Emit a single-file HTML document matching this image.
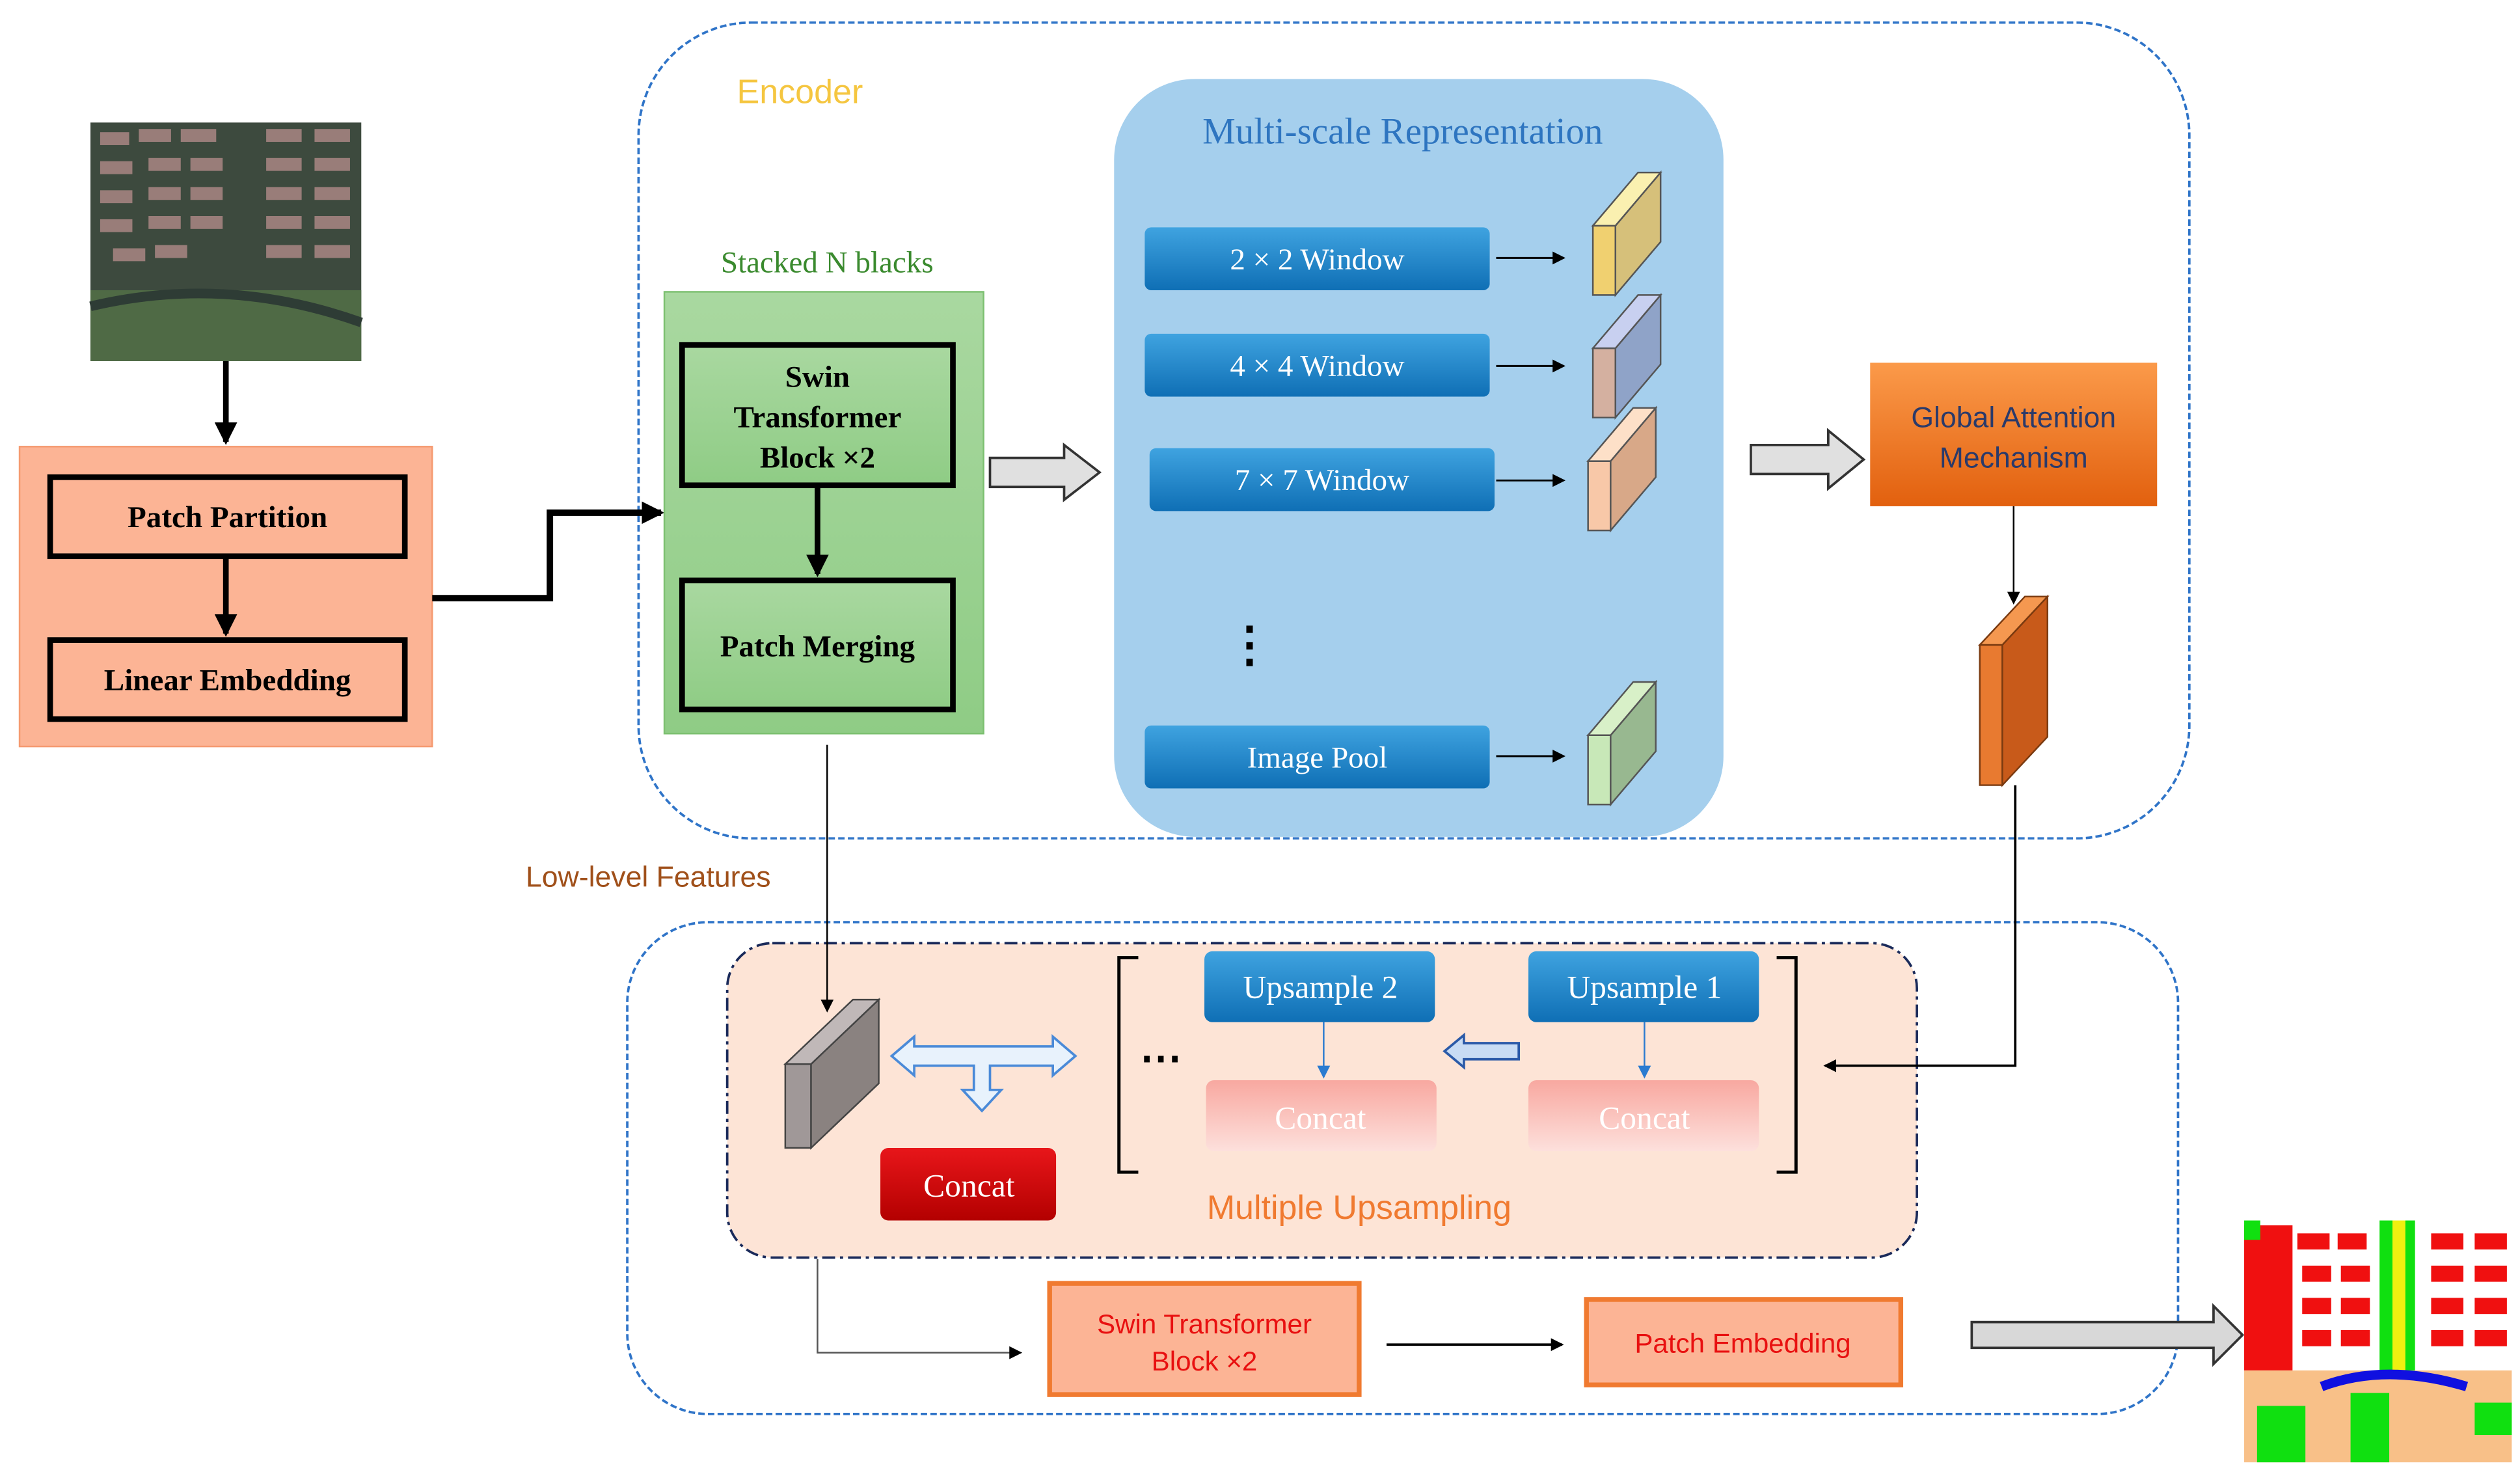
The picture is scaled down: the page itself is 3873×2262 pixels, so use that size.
<!DOCTYPE html>
<html><head><meta charset="utf-8"><style>
html,body{margin:0;padding:0;background:#fff;}
svg{display:block;}
.s{font-family:"Liberation Serif",serif;}
.a{font-family:"Liberation Sans",sans-serif;}
</style></head><body>
<svg width="3873" height="2262" viewBox="0 0 1563 913" xmlns="http://www.w3.org/2000/svg">
<defs>
<linearGradient id="bl" x1="0" y1="0" x2="0" y2="1"><stop offset="0" stop-color="#3fa3e0"/><stop offset="1" stop-color="#0f6fb5"/></linearGradient>
<linearGradient id="or" x1="0" y1="0" x2="0" y2="1"><stop offset="0" stop-color="#fb9a4a"/><stop offset="1" stop-color="#e2600e"/></linearGradient>
<linearGradient id="pk" x1="0" y1="0" x2="0" y2="1"><stop offset="0" stop-color="#f8a8a0"/><stop offset="1" stop-color="#fde0dc"/></linearGradient>
<linearGradient id="gr" x1="0" y1="0" x2="0" y2="1"><stop offset="0" stop-color="#a9d8a0"/><stop offset="1" stop-color="#8fcc85"/></linearGradient>
<linearGradient id="rd" x1="0" y1="0" x2="0" y2="1"><stop offset="0" stop-color="#e8161a"/><stop offset="1" stop-color="#b30000"/></linearGradient>
<marker id="ah" markerWidth="8" markerHeight="8" refX="7" refY="4" orient="auto" markerUnits="userSpaceOnUse"><path d="M0,0 L8,4 L0,8 z" fill="#000"/></marker>
<marker id="ab" markerWidth="8" markerHeight="8" refX="7" refY="4" orient="auto" markerUnits="userSpaceOnUse"><path d="M0,0 L8,4 L0,8 z" fill="#2b7bd0"/></marker>
<marker id="ak" markerWidth="14" markerHeight="14" refX="12" refY="7" orient="auto" markerUnits="userSpaceOnUse"><path d="M0,0 L14,7 L0,14 z" fill="#000"/></marker>
</defs>

<rect x="396" y="14" width="962" height="506" rx="70" fill="none" stroke="#2f74c8" stroke-width="1.5" stroke-dasharray="4,2"/>
<text x="457" y="64" class="a" font-size="21" fill="#f5c640">Encoder</text>
<rect x="389" y="572" width="962" height="305" rx="50" fill="none" stroke="#2f74c8" stroke-width="1.5" stroke-dasharray="4,2"/>

<rect x="56" y="76" width="168" height="148" fill="#3d4a3e"/>
<g fill="#b08a88" opacity="0.8">
<rect x="62" y="82" width="18" height="8"/><rect x="86" y="80" width="20" height="8"/><rect x="112" y="80" width="22" height="8"/><rect x="165" y="80" width="22" height="8"/><rect x="195" y="80" width="22" height="8"/>
<rect x="62" y="100" width="20" height="8"/><rect x="92" y="98" width="20" height="8"/><rect x="118" y="98" width="20" height="8"/><rect x="165" y="98" width="22" height="8"/><rect x="195" y="98" width="22" height="8"/>
<rect x="62" y="118" width="20" height="8"/><rect x="92" y="116" width="20" height="8"/><rect x="118" y="116" width="20" height="8"/><rect x="165" y="116" width="22" height="8"/><rect x="195" y="116" width="22" height="8"/>
<rect x="62" y="136" width="20" height="8"/><rect x="92" y="134" width="20" height="8"/><rect x="118" y="134" width="20" height="8"/><rect x="165" y="134" width="22" height="8"/><rect x="195" y="134" width="22" height="8"/>
<rect x="70" y="154" width="20" height="8"/><rect x="96" y="152" width="20" height="8"/><rect x="165" y="152" width="22" height="8"/><rect x="195" y="152" width="22" height="8"/>
</g>
<rect x="56" y="180" width="168" height="44" fill="#4f6a45"/>
<path d="M56,190 Q140,170 224,200" stroke="#2e3c35" stroke-width="6" fill="none"/>
<line x1="140" y1="224" x2="140" y2="274" stroke="#000" stroke-width="3.5" marker-end="url(#ak)"/>

<rect x="12" y="277" width="256" height="186" fill="#fcb495" stroke="#f59a70" stroke-width="1"/>
<rect x="31" y="296" width="220" height="49" fill="#fcb495" stroke="#000" stroke-width="3.5"/>
<text x="141" y="327" class="s" font-size="19" font-weight="bold" text-anchor="middle">Patch Partition</text>
<line x1="140" y1="345" x2="140" y2="393" stroke="#000" stroke-width="3.5" marker-end="url(#ak)"/>
<rect x="31" y="397" width="220" height="49" fill="#fcb495" stroke="#000" stroke-width="3.5"/>
<text x="141" y="428" class="s" font-size="19" font-weight="bold" text-anchor="middle">Linear Embedding</text>
<polyline points="268,371 341,371 341,318 410,318" fill="none" stroke="#000" stroke-width="4" marker-end="url(#ak)"/>

<text x="513" y="169" class="s" font-size="19" fill="#3a8a2e" text-anchor="middle">Stacked N blacks</text>
<rect x="412" y="181" width="198" height="274" fill="url(#gr)" stroke="#7cc070"/>
<rect x="423" y="214" width="168" height="87" fill="url(#gr)" stroke="#000" stroke-width="3.5"/>
<text x="507" y="240" class="s" font-size="19" font-weight="bold" text-anchor="middle">Swin</text>
<text x="507" y="265" class="s" font-size="19" font-weight="bold" text-anchor="middle">Transformer</text>
<text x="507" y="290" class="s" font-size="19" font-weight="bold" text-anchor="middle">Block ×2</text>
<line x1="507" y1="301" x2="507" y2="356" stroke="#000" stroke-width="3.5" marker-end="url(#ak)"/>
<rect x="423" y="360" width="168" height="80" fill="url(#gr)" stroke="#000" stroke-width="3.5"/>
<text x="507" y="407" class="s" font-size="19" font-weight="bold" text-anchor="middle">Patch Merging</text>

<polygon points="614,284 660,284 660,276 682,293 660,310 660,302 614,302" fill="#e0e0e0" stroke="#333" stroke-width="1.5"/>

<rect x="691" y="49" width="378" height="470" rx="50" fill="#a5cfed"/>
<text x="870" y="89" class="s" font-size="23" fill="#2e75c0" text-anchor="middle">Multi-scale Representation</text>
<g class="s" font-size="19" fill="#fff" text-anchor="middle">
<rect x="710" y="141" width="214" height="39" rx="4" fill="url(#bl)"/><text x="817" y="167">2 × 2 Window</text>
<rect x="710" y="207" width="214" height="39" rx="4" fill="url(#bl)"/><text x="817" y="233">4 × 4 Window</text>
<rect x="713" y="278" width="214" height="39" rx="4" fill="url(#bl)"/><text x="820" y="304">7 × 7 Window</text>
<rect x="710" y="450" width="214" height="39" rx="4" fill="url(#bl)"/><text x="817" y="476">Image Pool</text>
</g>
<g stroke="#000" stroke-width="1.2" marker-end="url(#ah)">
<line x1="928" y1="160" x2="970" y2="160"/><line x1="928" y1="227" x2="970" y2="227"/><line x1="928" y1="298" x2="970" y2="298"/><line x1="928" y1="469" x2="970" y2="469"/>
</g>
<text x="775" y="410" font-size="30" font-weight="bold" text-anchor="middle" class="a">⋮</text>
<g stroke="#555" stroke-width="1">
<polygon points="988,140 1002,140 1002,183 988,183" fill="#f0d070"/><polygon points="1002,140 1030,107 1030,150 1002,183" fill="#d6c07a"/><polygon points="988,140 1016,107 1030,107 1002,140" fill="#faf0b0"/>
<polygon points="988,216 1002,216 1002,259 988,259" fill="#d4b0a0"/><polygon points="1002,216 1030,183 1030,226 1002,259" fill="#8fa3c8"/><polygon points="988,216 1016,183 1030,183 1002,216" fill="#c8d0f0"/>
<polygon points="985,286 999,286 999,329 985,329" fill="#f8c8a8"/><polygon points="999,286 1027,253 1027,296 999,329" fill="#d8a888"/><polygon points="985,286 1013,253 1027,253 999,286" fill="#fde0c8"/>
<polygon points="985,456 999,456 999,499 985,499" fill="#c8e8b8"/><polygon points="999,456 1027,423 1027,466 999,499" fill="#98b890"/><polygon points="985,456 1013,423 1027,423 999,456" fill="#d8f0c8"/>
</g>

<polygon points="1086,276 1134,276 1134,267 1156,285 1134,303 1134,294 1086,294" fill="#e0e0e0" stroke="#333" stroke-width="1.5"/>
<rect x="1160" y="225" width="178" height="89" fill="url(#or)"/>
<text x="1249" y="265" class="a" font-size="18" fill="#2a3a6a" text-anchor="middle">Global Attention</text>
<text x="1249" y="290" class="a" font-size="18" fill="#2a3a6a" text-anchor="middle">Mechanism</text>
<line x1="1249" y1="314" x2="1249" y2="374" stroke="#000" stroke-width="1" marker-end="url(#ah)"/>
<g stroke="#7a3a10" stroke-width="1">
<polygon points="1228,400 1242,400 1242,487 1228,487" fill="#e87a30"/><polygon points="1242,400 1270,370 1270,457 1242,487" fill="#c85a1a"/><polygon points="1228,400 1256,370 1270,370 1242,400" fill="#f59850"/>
</g>

<text x="326" y="550" class="a" font-size="18" fill="#a0501a">Low-level Features</text>

<rect x="451" y="585" width="738" height="195" rx="28" fill="#fde4d6" stroke="#1a2a5a" stroke-width="1.5" stroke-dasharray="8,3,2,3"/>
<line x1="513" y1="462" x2="513" y2="627" stroke="#000" stroke-width="1" marker-end="url(#ah)"/>
<polyline points="1250,487 1250,661 1132,661" fill="none" stroke="#000" stroke-width="1.5" marker-end="url(#ah)"/>
<g stroke="#444" stroke-width="1">
<polygon points="487,660 503,660 503,712 487,712" fill="#a09898"/><polygon points="503,660 545,620 545,672 503,712" fill="#8a8280"/><polygon points="487,660 529,620 545,620 503,660" fill="#c0b8b8"/>
</g>
<path d="M553,655 L567,643 L567,649 L653,649 L653,643 L667,655 L653,667 L653,661 L614,661 L614,676 L621,676 L609,689 L597,676 L604,676 L604,661 L567,661 L567,667 Z" fill="#e8f2fc" stroke="#4a8ad8" stroke-width="1.5"/>
<rect x="546" y="712" width="109" height="45" rx="5" fill="url(#rd)"/>
<text x="601" y="742" class="s" font-size="20" fill="#fff" text-anchor="middle">Concat</text>
<path d="M706,594 L694,594 L694,727 L706,727" fill="none" stroke="#000" stroke-width="2"/>
<path d="M1102,594 L1114,594 L1114,727 L1102,727" fill="none" stroke="#000" stroke-width="2"/>
<text x="720" y="665" font-size="26" font-weight="bold" text-anchor="middle" class="a">⋯</text>
<rect x="747" y="590" width="143" height="44" rx="5" fill="url(#bl)"/>
<text x="819" y="619" class="s" font-size="20" fill="#fff" text-anchor="middle">Upsample 2</text>
<rect x="948" y="590" width="143" height="44" rx="5" fill="url(#bl)"/>
<text x="1020" y="619" class="s" font-size="20" fill="#fff" text-anchor="middle">Upsample 1</text>
<line x1="821" y1="634" x2="821" y2="668" stroke="#2b7bd0" stroke-width="1" marker-end="url(#ab)"/>
<line x1="1020" y1="634" x2="1020" y2="668" stroke="#2b7bd0" stroke-width="1" marker-end="url(#ab)"/>
<rect x="748" y="670" width="143" height="44" rx="5" fill="url(#pk)"/>
<text x="819" y="700" class="s" font-size="20" fill="#fff" text-anchor="middle">Concat</text>
<rect x="948" y="670" width="143" height="44" rx="5" fill="url(#pk)"/>
<text x="1020" y="700" class="s" font-size="20" fill="#fff" text-anchor="middle">Concat</text>
<path d="M896,652 L908,642 L908,647 L942,647 L942,657 L908,657 L908,662 Z" fill="#c8dcf4" stroke="#2b5aa8" stroke-width="1.5"/>
<text x="843" y="756" class="a" font-size="21" fill="#f07a30" text-anchor="middle">Multiple Upsampling</text>

<polyline points="507,781 507,839 633,839" fill="none" stroke="#555" stroke-width="1" marker-end="url(#ah)"/>
<rect x="651" y="796" width="192" height="69" fill="#fcb495" stroke="#f07a30" stroke-width="3"/>
<text x="747" y="827" class="a" font-size="17" fill="#e81010" text-anchor="middle">Swin Transformer</text>
<text x="747" y="850" class="a" font-size="17" fill="#e81010" text-anchor="middle">Block ×2</text>
<line x1="860" y1="834" x2="969" y2="834" stroke="#000" stroke-width="1.5" marker-end="url(#ah)"/>
<rect x="984" y="806" width="195" height="53" fill="#fcb495" stroke="#f07a30" stroke-width="3"/>
<text x="1081" y="839" class="a" font-size="17" fill="#e81010" text-anchor="middle">Patch Embedding</text>
<polygon points="1223,820 1373,820 1373,810 1391,828 1373,846 1373,836 1223,836" fill="#d8d8d8" stroke="#333" stroke-width="1.5"/>

<rect x="1392" y="757" width="166" height="150" fill="#fff"/>
<g fill="#f01010">
<rect x="1392" y="760" width="30" height="90"/><rect x="1425" y="765" width="20" height="10"/><rect x="1450" y="765" width="18" height="10"/><rect x="1508" y="765" width="20" height="10"/><rect x="1535" y="765" width="20" height="10"/>
<rect x="1428" y="785" width="18" height="10"/><rect x="1452" y="785" width="18" height="10"/><rect x="1508" y="785" width="20" height="10"/><rect x="1535" y="785" width="20" height="10"/>
<rect x="1428" y="805" width="18" height="10"/><rect x="1452" y="805" width="18" height="10"/><rect x="1508" y="805" width="20" height="10"/><rect x="1535" y="805" width="20" height="10"/>
<rect x="1428" y="825" width="18" height="10"/><rect x="1452" y="825" width="18" height="10"/><rect x="1508" y="825" width="20" height="10"/><rect x="1535" y="825" width="20" height="10"/>
</g>
<rect x="1476" y="757" width="22" height="100" fill="#10e010"/>
<rect x="1484" y="757" width="8" height="100" fill="#f0f010"/>
<rect x="1392" y="757" width="10" height="12" fill="#10e010"/>
<rect x="1392" y="850" width="166" height="57" fill="#f8c088"/>
<path d="M1440,860 Q1480,845 1530,860" stroke="#1010e0" stroke-width="6" fill="none"/>
<rect x="1400" y="872" width="30" height="35" fill="#10e010"/>
<rect x="1458" y="864" width="24" height="43" fill="#10e010"/>
<rect x="1535" y="870" width="23" height="20" fill="#10e010"/>
</svg>
</body></html>
